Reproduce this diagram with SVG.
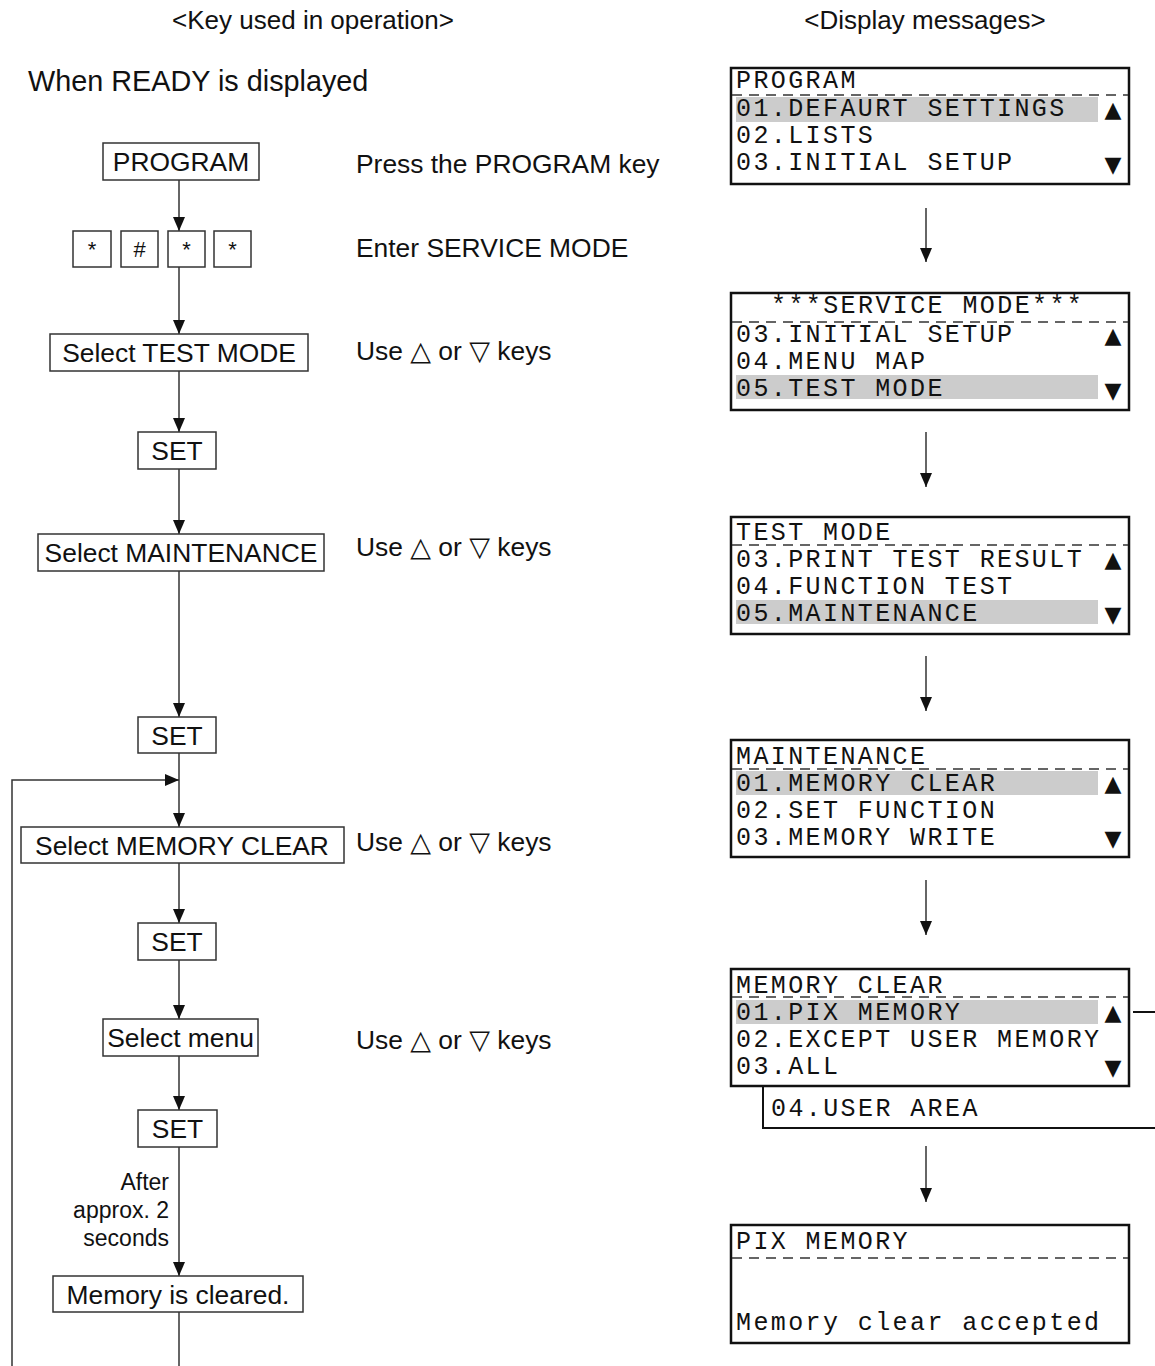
<svg xmlns="http://www.w3.org/2000/svg" width="1155" height="1366" viewBox="0 0 1155 1366">
<style>
  .key { fill: #fff; stroke: #333; stroke-width: 1.5; }
  .kt { font-family: "Liberation Sans", Arial, sans-serif; font-size: 26.4px; fill: #111; text-anchor: middle; }
  .st { font-family: "Liberation Sans", Arial, sans-serif; font-size: 22px; fill: #111; text-anchor: middle; }
  .lbl { font-family: "Liberation Sans", Arial, sans-serif; font-size: 26.4px; fill: #111; }
  .hd { font-family: "Liberation Sans", Arial, sans-serif; font-size: 26px; fill: #111; text-anchor: middle; }
  .sm { font-family: "Liberation Sans", Arial, sans-serif; font-size: 23px; fill: #111; text-anchor: end; }
  .sym { font-family: "DejaVu Sans", sans-serif; font-size: 27px; }
  .disp { fill: #fff; stroke: #111; stroke-width: 2.5; }
  .dash { stroke: #333; stroke-width: 1.5; stroke-dasharray: 10 7; fill: none; }
  .hl { fill: #cccccc; }
  .mono { font-family: "Liberation Mono", "Courier New", monospace; font-size: 25px; letter-spacing: 2.4px; fill: #111; }
  .tri { font-family: "DejaVu Sans", sans-serif; font-size: 22px; fill: #111; text-anchor: middle; }
  .ln { stroke: #333; stroke-width: 1.5; fill: none; }
  .br { stroke: #111; stroke-width: 2; fill: none; }
</style>
<defs>
  <marker id="ah" viewBox="0 0 14 12" refX="14" refY="6" markerWidth="14" markerHeight="12" orient="auto" markerUnits="userSpaceOnUse">
    <path d="M0,0 L14,6 L0,12 z" fill="#111"/>
  </marker>
</defs>
<rect width="1155" height="1366" fill="#fff"/>

<!-- headers -->
<text class="hd" x="313" y="29">&lt;Key used in operation&gt;</text>
<text class="hd" x="925" y="29">&lt;Display messages&gt;</text>
<text class="lbl" x="28" y="91" style="font-size:28.8px">When READY is displayed</text>

<!-- connectors -->
<g id="connectors">
  <line class="ln" x1="179" y1="180" x2="179" y2="231" marker-end="url(#ah)"/>
  <line class="ln" x1="179" y1="267" x2="179" y2="334" marker-end="url(#ah)"/>
  <line class="ln" x1="179" y1="371" x2="179" y2="432" marker-end="url(#ah)"/>
  <line class="ln" x1="179" y1="469" x2="179" y2="534" marker-end="url(#ah)"/>
  <line class="ln" x1="179" y1="571" x2="179" y2="717" marker-end="url(#ah)"/>
  <line class="ln" x1="179" y1="753" x2="179" y2="827" marker-end="url(#ah)"/>
  <path class="ln" d="M12,1366 L12,780 L179,780" marker-end="url(#ah)"/>
  <line class="ln" x1="179" y1="863" x2="179" y2="923" marker-end="url(#ah)"/>
  <line class="ln" x1="179" y1="960" x2="179" y2="1019" marker-end="url(#ah)"/>
  <line class="ln" x1="179" y1="1056" x2="179" y2="1110" marker-end="url(#ah)"/>
  <line class="ln" x1="179" y1="1147" x2="179" y2="1276" marker-end="url(#ah)"/>
  <line class="ln" x1="179" y1="1312" x2="179" y2="1366"/>
  <!-- display arrows -->
  <line class="ln" x1="926" y1="208" x2="926" y2="262" marker-end="url(#ah)"/>
  <line class="ln" x1="926" y1="432" x2="926" y2="487" marker-end="url(#ah)"/>
  <line class="ln" x1="926" y1="656" x2="926" y2="711" marker-end="url(#ah)"/>
  <line class="ln" x1="926" y1="880" x2="926" y2="935" marker-end="url(#ah)"/>
  <line class="ln" x1="926" y1="1146" x2="926" y2="1202" marker-end="url(#ah)"/>
</g>

<!-- key nodes -->
<g id="k-program"><rect class="key" x="103" y="143" width="156" height="37"/><text class="kt" x="181" y="171">PROGRAM</text></g>
<g id="k-star1"><rect class="key" x="73" y="231" width="38" height="36"/><text class="st" x="92" y="257">*</text></g>
<g id="k-hash"><rect class="key" x="121" y="231" width="37" height="36"/><text class="st" x="139.5" y="257">#</text></g>
<g id="k-star2"><rect class="key" x="168" y="231" width="37" height="36"/><text class="st" x="186.5" y="257">*</text></g>
<g id="k-star3"><rect class="key" x="214" y="231" width="37" height="36"/><text class="st" x="232.5" y="257">*</text></g>
<g id="k-testmode"><rect class="key" x="50" y="334" width="258" height="37"/><text class="kt" x="179" y="362">Select TEST MODE</text></g>
<g id="k-set1"><rect class="key" x="138" y="432" width="78" height="37"/><text class="kt" x="177" y="460">SET</text></g>
<g id="k-maint"><rect class="key" x="38" y="534" width="286" height="37"/><text class="kt" x="181" y="562">Select MAINTENANCE</text></g>
<g id="k-set2"><rect class="key" x="138" y="717" width="78" height="36"/><text class="kt" x="177" y="745">SET</text></g>
<g id="k-memclear"><rect class="key" x="21" y="827" width="323" height="36"/><text class="kt" x="182" y="855">Select MEMORY CLEAR</text></g>
<g id="k-set3"><rect class="key" x="138" y="923" width="78" height="37"/><text class="kt" x="177" y="951">SET</text></g>
<g id="k-menu"><rect class="key" x="103" y="1019" width="155" height="37"/><text class="kt" x="180.5" y="1047">Select menu</text></g>
<g id="k-set4"><rect class="key" x="138" y="1110" width="79" height="37"/><text class="kt" x="177.5" y="1138">SET</text></g>
<g id="k-cleared"><rect class="key" x="53" y="1276" width="250" height="36"/><text class="kt" x="178" y="1304">Memory is cleared.</text></g>

<text class="sm" x="169" y="1190">After</text>
<text class="sm" x="169" y="1218">approx. 2</text>
<text class="sm" x="169" y="1246">seconds</text>

<!-- operation labels -->
<text class="lbl" x="356" y="173">Press the PROGRAM key</text>
<text class="lbl" x="356" y="257">Enter SERVICE MODE</text>
<text class="lbl" x="356" y="360">Use <tspan class="sym">△</tspan> or <tspan class="sym">▽</tspan> keys</text>
<text class="lbl" x="356" y="556">Use <tspan class="sym">△</tspan> or <tspan class="sym">▽</tspan> keys</text>
<text class="lbl" x="356" y="851">Use <tspan class="sym">△</tspan> or <tspan class="sym">▽</tspan> keys</text>
<text class="lbl" x="356" y="1049">Use <tspan class="sym">△</tspan> or <tspan class="sym">▽</tspan> keys</text>

<!-- display 1 -->
<g id="d-program">
  <rect class="disp" x="731" y="68" width="398" height="116"/>
  <line class="dash" x1="732" y1="95" x2="1128" y2="95"/>
  <rect class="hl" x="736" y="97" width="362" height="25"/>
  <text class="mono" x="736" y="88">PROGRAM</text>
  <text class="mono" x="736" y="116">01.DEFAURT SETTINGS</text>
  <text class="mono" x="736" y="143">02.LISTS</text>
  <text class="mono" x="736" y="170">03.INITIAL SETUP</text>
  <text class="tri" x="1113" y="117">▲</text>
  <text class="tri" x="1113" y="172">▼</text>
</g>
<!-- display 2 -->
<g id="d-service">
  <rect class="disp" x="731" y="293" width="398" height="117"/>
  <line class="dash" x1="732" y1="322" x2="1128" y2="322"/>
  <rect class="hl" x="736" y="375" width="362" height="24"/>
  <text class="mono" x="771" y="313">***SERVICE MODE***</text>
  <text class="mono" x="736" y="342">03.INITIAL SETUP</text>
  <text class="mono" x="736" y="369">04.MENU MAP</text>
  <text class="mono" x="736" y="396">05.TEST MODE</text>
  <text class="tri" x="1113" y="343">▲</text>
  <text class="tri" x="1113" y="398">▼</text>
</g>
<!-- display 3 -->
<g id="d-testmode">
  <rect class="disp" x="731" y="517" width="398" height="117"/>
  <line class="dash" x1="732" y1="545" x2="1128" y2="545"/>
  <rect class="hl" x="736" y="600" width="362" height="24"/>
  <text class="mono" x="736" y="540">TEST MODE</text>
  <text class="mono" x="736" y="567">03.PRINT TEST RESULT</text>
  <text class="mono" x="736" y="594">04.FUNCTION TEST</text>
  <text class="mono" x="736" y="621">05.MAINTENANCE</text>
  <text class="tri" x="1113" y="567">▲</text>
  <text class="tri" x="1113" y="622">▼</text>
</g>
<!-- display 4 -->
<g id="d-maint">
  <rect class="disp" x="731" y="740" width="398" height="117"/>
  <line class="dash" x1="732" y1="769" x2="1128" y2="769"/>
  <rect class="hl" x="736" y="771" width="362" height="24"/>
  <text class="mono" x="736" y="764">MAINTENANCE</text>
  <text class="mono" x="736" y="791">01.MEMORY CLEAR</text>
  <text class="mono" x="736" y="818">02.SET FUNCTION</text>
  <text class="mono" x="736" y="845">03.MEMORY WRITE</text>
  <text class="tri" x="1113" y="791">▲</text>
  <text class="tri" x="1113" y="846">▼</text>
</g>
<!-- display 5 -->
<g id="d-memclear">
  <path class="br" d="M763,1086 L763,1128 L1155,1128"/>
  <line class="br" x1="1133" y1="1012" x2="1155" y2="1012"/>
  <rect class="disp" x="731" y="969" width="398" height="117"/>
  <line class="dash" x1="732" y1="997" x2="1128" y2="997"/>
  <rect class="hl" x="736" y="1000" width="362" height="24"/>
  <text class="mono" x="736" y="993">MEMORY CLEAR</text>
  <text class="mono" x="736" y="1020">01.PIX MEMORY</text>
  <text class="mono" x="736" y="1047">02.EXCEPT USER MEMORY</text>
  <text class="mono" x="736" y="1074">03.ALL</text>
  <text class="tri" x="1113" y="1020">▲</text>
  <text class="tri" x="1113" y="1075">▼</text>
  <text class="mono" x="771" y="1116">04.USER AREA</text>
</g>
<!-- display 6 -->
<g id="d-pix">
  <rect class="disp" x="731" y="1225" width="398" height="118"/>
  <line class="dash" x1="732" y1="1258" x2="1128" y2="1258"/>
  <text class="mono" x="736" y="1249">PIX MEMORY</text>
  <text class="mono" x="736" y="1330">Memory clear accepted</text>
</g>
</svg>
